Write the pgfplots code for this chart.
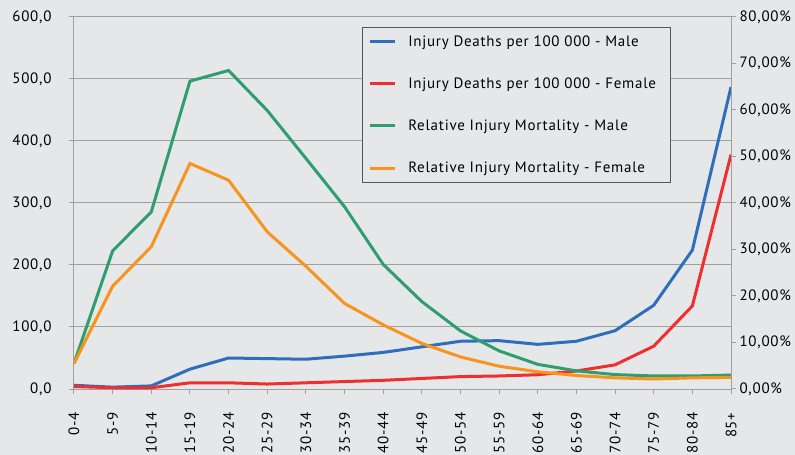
\documentclass[border=0pt]{standalone}
\usepackage{fontspec}
\setmainfont[LetterSpace=5]{PT Sans}
\usepackage{pgfplots}
\usepackage{pgfplotstable}
\pgfplotsset{compat=1.18}
\definecolor{bg}{HTML}{E6E7E8}
\definecolor{cblue}{HTML}{2F6EBA}
\definecolor{cred}{HTML}{EE2E2F}
\definecolor{cgreen}{HTML}{2E9E6E}
\definecolor{corange}{HTML}{F7941D}
\definecolor{gridc}{HTML}{A0A0A0}
\definecolor{legc}{HTML}{555555}

\pgfplotstableread{
x  blue  red   green orange
0  6     4     5.5   5.5
1  3     2     29.7  22.1
2  5     2     38.1  30.6
3  32    10    66.2  48.5
4  50    10    68.5  44.9
5  49    8     59.9  33.8
6  48    10    49.6  26.4
7  53    12    39.2  18.4
8  59    14    26.8  13.8
9  68    17    18.8  9.8
10 77    20    12.5  6.9
11 78    21    8.2   4.9
12 72    23    5.3   3.7
13 77    29    3.9   2.9
14 94    39    3.1   2.4
15 135   69    2.8   2.15
16 224   134   2.8   2.4
17 487   378   3.0   2.5
}\data

\begin{document}
\begin{tikzpicture}[font=\fontsize{15}{17}\selectfont]
\fill[bg] (-74pt,-66pt) rectangle (721pt,389pt);
\path[use as bounding box] (-74pt,-66pt) rectangle (721pt,389pt);
\begin{axis}[
  at={(0pt,0pt)}, anchor=south west,
  scale only axis, width=657pt, height=372pt,
  xmin=0, xmax=17, ymin=0, ymax=600,
  axis y line*=left, axis x line*=bottom,
  xtick={0,...,17},
  xticklabels={0-4,5-9,10-14,15-19,20-24,25-29,30-34,35-39,40-44,45-49,50-54,55-59,60-64,65-69,70-74,75-79,80-84,85+},
  x tick label style={yshift=-15pt, rotate=90, anchor=east},
  ytick={0,100,...,600},
  y tick label style={xshift=-14pt, /pgf/number format/.cd, fixed, fixed zerofill, precision=1, use comma, assume math mode=true},
  ymajorgrids, grid style={gridc, line width=1pt},
  axis line style={gridc, line width=1pt},
  tick style={gridc, line width=1pt},
  tick align=outside, major tick length=5pt,
  every tick label/.append style={font=\fontsize{15}{17}\selectfont},
]
\addplot[cblue, line width=3pt] table[x=x, y=blue] {\data};
\addplot[cred, line width=3pt] table[x=x, y=red] {\data};
\end{axis}
\begin{axis}[
  at={(0pt,0pt)}, anchor=south west,
  scale only axis, width=657pt, height=372pt,
  xmin=0, xmax=17, ymin=0, ymax=80,
  axis y line*=right, axis x line=none,
  ytick={0,10,...,80},
  yticklabel={\pgfmathprintnumber[fixed,fixed zerofill,precision=2,use comma,assume math mode=true]{\tick}\%},
  axis line style={gridc, line width=1pt},
  tick style={gridc, line width=1pt},
  tick align=outside, major tick length=5pt,
  every tick label/.append style={font=\fontsize{15}{17}\selectfont},
  legend style={at={(rel axis cs:0.438,0.973)}, anchor=north west, draw=legc, line width=1pt, fill=bg,
    font=\fontsize{15}{17}\selectfont, row sep=26pt, inner xsep=6pt, inner ysep=6pt},
  legend cell align=left,
  legend image code/.code={\draw[#1, line width=3pt] (0pt,0pt) -- (25pt,0pt); \path (35pt,0pt);},
]
\addlegendimage{cblue}
\addlegendentry{Injury Deaths per 100 000 - Male}
\addlegendimage{cred}
\addlegendentry{Injury Deaths per 100 000 - Female\hspace*{6pt}}
\addplot[cgreen, line width=3pt] table[x=x, y=green] {\data};
\addlegendentry{Relative Injury Mortality - Male}
\addplot[corange, line width=3pt] table[x=x, y=orange] {\data};
\addlegendentry{Relative Injury Mortality - Female}
\end{axis}
\end{tikzpicture}
\end{document}
